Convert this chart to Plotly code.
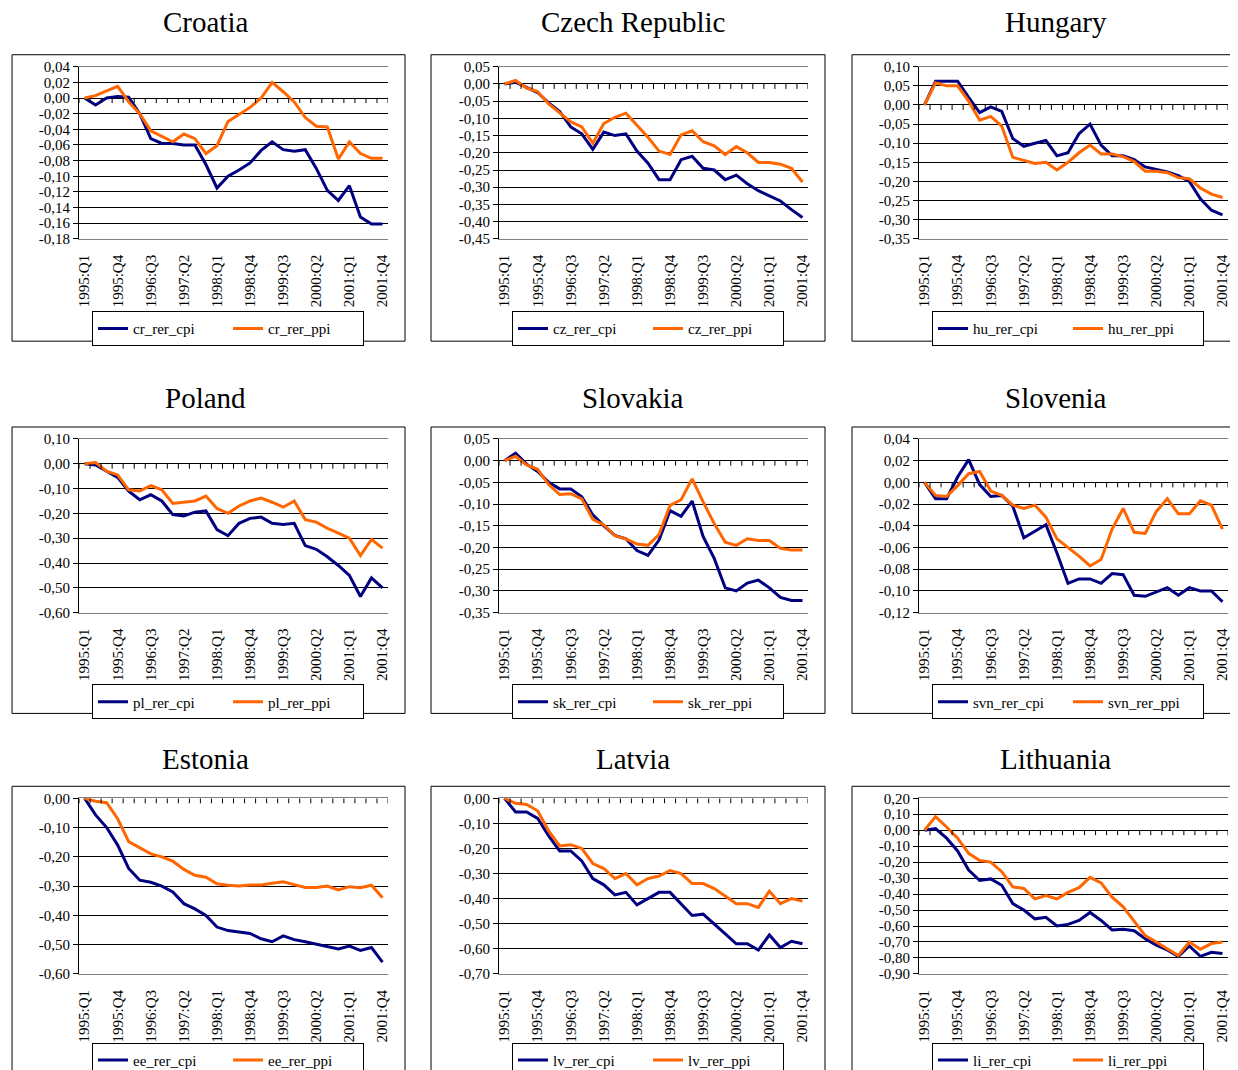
import plotly.graph_objects as go
import numpy as np

quarters = ["1995:Q1", "1995:Q2", "1995:Q3", "1995:Q4", "1996:Q1", "1996:Q2", "1996:Q3", "1996:Q4",
            "1997:Q1", "1997:Q2", "1997:Q3", "1997:Q4", "1998:Q1", "1998:Q2", "1998:Q3", "1998:Q4",
            "1999:Q1", "1999:Q2", "1999:Q3", "1999:Q4", "2000:Q1", "2000:Q2", "2000:Q3", "2000:Q4",
            "2001:Q1", "2001:Q2", "2001:Q3", "2001:Q4"]

cr_cpi = [0.000, -0.009, 0.000, 0.002, 0.001, -0.020, -0.052, -0.058, -0.058, -0.060, -0.060, -0.085, -0.115, -0.100,
          -0.092, -0.083, -0.067, -0.056, -0.066, -0.068, -0.066, -0.090, -0.118, -0.131, -0.112, -0.152, -0.161, -0.161]
cr_ppi = [0.000, 0.003, 0.009, 0.015, -0.005, -0.020, -0.042, -0.049, -0.056, -0.046, -0.052, -0.071, -0.061, -0.030,
          -0.021, -0.012, 0.000, 0.020, 0.008, -0.005, -0.025, -0.036, -0.037, -0.078, -0.056, -0.071, -0.077, -0.077]

cz_cpi = [0.000, 0.005, -0.010, -0.025, -0.055, -0.080, -0.125, -0.145, -0.190, -0.140, -0.150, -0.145, -0.195, -0.230,
          -0.278, -0.278, -0.220, -0.210, -0.245, -0.250, -0.278, -0.265, -0.290, -0.310, -0.325, -0.340, -0.365, -0.388]
cz_ppi = [0.000, 0.010, -0.012, -0.022, -0.058, -0.085, -0.110, -0.125, -0.172, -0.115, -0.097, -0.085, -0.120, -0.155,
          -0.195, -0.205, -0.148, -0.136, -0.168, -0.180, -0.205, -0.182, -0.200, -0.228, -0.228, -0.233, -0.245, -0.285]

hu_cpi = [0.000, 0.062, 0.062, 0.062, 0.020, -0.020, -0.005, -0.017, -0.088, -0.108, -0.100, -0.093, -0.133, -0.125,
          -0.075, -0.050, -0.105, -0.133, -0.133, -0.143, -0.162, -0.168, -0.175, -0.185, -0.200, -0.245, -0.275, -0.287]
hu_ppi = [0.000, 0.058, 0.050, 0.050, 0.010, -0.040, -0.030, -0.055, -0.137, -0.145, -0.153, -0.150, -0.170, -0.150,
          -0.125, -0.105, -0.128, -0.128, -0.135, -0.148, -0.173, -0.173, -0.177, -0.190, -0.193, -0.217, -0.233, -0.242]

pl_cpi = [0.000, -0.005, -0.030, -0.055, -0.110, -0.145, -0.125, -0.150, -0.205, -0.210, -0.195, -0.190, -0.265, -0.290,
          -0.240, -0.220, -0.215, -0.240, -0.245, -0.240, -0.330, -0.345, -0.375, -0.410, -0.450, -0.535, -0.460, -0.500]
pl_ppi = [0.000, 0.005, -0.030, -0.045, -0.105, -0.110, -0.088, -0.105, -0.160, -0.155, -0.150, -0.130, -0.180, -0.200,
          -0.170, -0.150, -0.138, -0.155, -0.175, -0.150, -0.225, -0.235, -0.260, -0.280, -0.300, -0.370, -0.305, -0.340]

sk_cpi = [0.000, 0.017, -0.008, -0.025, -0.050, -0.065, -0.065, -0.083, -0.125, -0.150, -0.172, -0.180, -0.207, -0.218,
          -0.183, -0.115, -0.128, -0.093, -0.175, -0.225, -0.293, -0.300, -0.282, -0.275, -0.293, -0.315, -0.322, -0.322]
sk_ppi = [0.000, 0.010, -0.010, -0.020, -0.055, -0.078, -0.076, -0.088, -0.135, -0.148, -0.173, -0.180, -0.192, -0.195,
          -0.170, -0.103, -0.090, -0.042, -0.095, -0.145, -0.188, -0.195, -0.180, -0.184, -0.184, -0.202, -0.206, -0.206]

svn_cpi = [0.000, -0.015, -0.015, 0.005, 0.021, -0.002, -0.013, -0.012, -0.022, -0.051, -0.045, -0.039, -0.065, -0.093,
           -0.089, -0.089, -0.093, -0.084, -0.085, -0.104, -0.105, -0.101, -0.097, -0.104, -0.097, -0.100, -0.100, -0.110]
svn_ppi = [0.000, -0.012, -0.013, -0.003, 0.008, 0.010, -0.008, -0.012, -0.021, -0.024, -0.021, -0.032, -0.052, -0.060,
           -0.068, -0.077, -0.071, -0.043, -0.024, -0.046, -0.047, -0.027, -0.015, -0.029, -0.029, -0.017, -0.021, -0.043]

ee_cpi = [0.000, -0.057, -0.100, -0.160, -0.240, -0.280, -0.287, -0.300, -0.320, -0.360, -0.378, -0.400, -0.440, -0.452,
          -0.457, -0.462, -0.480, -0.490, -0.470, -0.483, -0.490, -0.498, -0.505, -0.515, -0.505, -0.520, -0.510, -0.560]
ee_ppi = [0.000, -0.010, -0.015, -0.070, -0.148, -0.168, -0.190, -0.200, -0.215, -0.243, -0.263, -0.270, -0.292, -0.297,
          -0.300, -0.296, -0.296, -0.290, -0.285, -0.295, -0.305, -0.305, -0.300, -0.313, -0.302, -0.306, -0.297, -0.340]

lv_cpi = [0.000, -0.055, -0.055, -0.080, -0.150, -0.210, -0.210, -0.250, -0.320, -0.345, -0.385, -0.375, -0.425, -0.400,
          -0.375, -0.375, -0.420, -0.467, -0.462, -0.500, -0.540, -0.580, -0.580, -0.605, -0.545, -0.595, -0.570, -0.580]
lv_ppi = [0.000, -0.020, -0.025, -0.050, -0.130, -0.190, -0.185, -0.200, -0.260, -0.280, -0.320, -0.300, -0.345, -0.320,
          -0.310, -0.288, -0.300, -0.340, -0.340, -0.360, -0.390, -0.420, -0.420, -0.435, -0.370, -0.420, -0.400, -0.410]

li_cpi = [0.000, 0.010, -0.050, -0.130, -0.250, -0.315, -0.305, -0.345, -0.460, -0.500, -0.555, -0.545, -0.600, -0.590,
          -0.565, -0.515, -0.565, -0.625, -0.620, -0.630, -0.680, -0.720, -0.750, -0.790, -0.725, -0.790, -0.765, -0.772]
li_ppi = [0.000, 0.085, 0.020, -0.050, -0.145, -0.190, -0.200, -0.260, -0.355, -0.365, -0.430, -0.410, -0.430, -0.390,
          -0.360, -0.295, -0.330, -0.420, -0.480, -0.570, -0.660, -0.700, -0.745, -0.785, -0.700, -0.745, -0.710, -0.700]

titles = ["Croatia", "Czech Republic", "Hungary", "Poland", "Slovakia", "Slovenia", "Estonia", "Latvia", "Lithuania"]
prefixes = ["cr", "cz", "hu", "pl", "sk", "svn", "ee", "lv", "li"]
cpi_series = [cr_cpi, cz_cpi, hu_cpi, pl_cpi, sk_cpi, svn_cpi, ee_cpi, lv_cpi, li_cpi]
ppi_series = [cr_ppi, cz_ppi, hu_ppi, pl_ppi, sk_ppi, svn_ppi, ee_ppi, lv_ppi, li_ppi]
y_ranges = [(-0.18, 0.04, 0.02), (-0.45, 0.05, 0.05), (-0.35, 0.10, 0.05),
            (-0.60, 0.10, 0.10), (-0.35, 0.05, 0.05), (-0.12, 0.04, 0.02),
            (-0.60, 0.00, 0.10), (-0.70, 0.00, 0.10), (-0.90, 0.20, 0.10)]

# ---- layout geometry (target pixels in the photographed page) ----
W, H = 1238, 1070
OFF = 8  # default body margin of the html page
FONT = "Liberation Serif"
BLUE = "#000080"
ORANGE = "#FF6600"

box_x = [(12, 405), (431, 825), (852, 1260)]
box_y = [(55, 342), (428, 715), (788, 1090)]
plot_x = [(79, 388), (499, 808), (919, 1228)]
plot_y = [(67, 239.5), (440, 614), (800, 976)]
title_x = [205, 633, 1056]
title_y = [22, 399, 761]
legend_x = [228, 648, 1068]
legend_y = [312, 686, 1045]

# measured correction between set positions and photographed positions
SX, BX = 0.996, 3.0
SY, BY = 0.987, 8.3


def px(x):
    return ((x - BX) / SX - OFF) / W


def py(y):
    return 1 - ((y - BY) / SY - OFF) / H


def fmt(v):
    if abs(v) < 1e-9:
        v = 0.0
    return f"{v:.2f}".replace(".", ",")


fig = go.Figure()
layout = dict(
    width=W, height=H, margin=dict(l=0, r=0, t=0, b=0), autosize=False,
    paper_bgcolor="white", plot_bgcolor="white",
    font=dict(family=FONT, color="black"),
    shapes=[], annotations=[],
)

n = len(quarters)
xs = list(range(n))

for k in range(9):
    r, c = divmod(k, 3)
    s = "" if k == 0 else str(k + 1)
    ymin, ymax, dt = y_ranges[k]
    top, bot = plot_y[r]
    left, right = plot_x[c]
    leg = "legend" + s

    fig.add_trace(go.Scatter(x=xs, y=cpi_series[k], mode="lines", name=f"{prefixes[k]}_rer_cpi",
                             line=dict(color=BLUE, width=3), xaxis="x" + s, yaxis="y" + s, legend=leg))
    fig.add_trace(go.Scatter(x=xs, y=ppi_series[k], mode="lines", name=f"{prefixes[k]}_rer_ppi",
                             line=dict(color=ORANGE, width=3), xaxis="x" + s, yaxis="y" + s, legend=leg))

    yt = [round(v, 2) for v in np.arange(ymin, ymax + dt / 2, dt)]
    layout["xaxis" + s] = dict(
        domain=[px(left), px(right)], range=[-0.5, n - 0.5], anchor="y" + s,
        showline=True, linecolor="#808080", linewidth=1, mirror=True,
        showgrid=False, zeroline=False,
        ticks="outside", ticklen=9, tickcolor="rgba(0,0,0,0)",
        tickmode="array", tickvals=xs[::3], ticktext=quarters[::3], tickangle=-90,
        tickfont=dict(family=FONT, size=15, color="black"),
        fixedrange=True,
    )
    layout["yaxis" + s] = dict(
        domain=[py(bot), py(top)], range=[ymin, ymax], anchor="x" + s,
        tickmode="array", tickvals=yt, ticktext=[fmt(v) for v in yt],
        showgrid=True, gridcolor="black", gridwidth=1,
        zeroline=True, zerolinecolor="black", zerolinewidth=1,
        showline=True, linecolor="black", linewidth=1, ticks="outside", ticklen=5, tickcolor="black",
        tickfont=dict(family=FONT, size=15, color="black"), fixedrange=True,
    )
    layout[leg] = dict(
        x=px(legend_x[c]), xanchor="center", y=py(legend_y[r]), yanchor="top",
        orientation="h", bordercolor="black", borderwidth=1, bgcolor="white",
        font=dict(family=FONT, size=15, color="black"), entrywidth=90, entrywidthmode="pixels",
    )
    # category tick marks on the zero line (between categories)
    for b in range(n + 1):
        layout["shapes"].append(dict(type="line", xref="x" + s, yref="y" + s, x0=b - 0.5, x1=b - 0.5,
                                     ysizemode="pixel", yanchor=0, y0=0, y1=-5,
                                     line=dict(color="black", width=1), layer="above"))
    # chart-area border
    bx0, bx1 = box_x[c]
    by0, by1 = box_y[r]
    layout["shapes"].append(dict(type="rect", xref="paper", yref="paper", x0=px(bx0), x1=px(bx1),
                                 y0=py(by1), y1=py(by0), line=dict(color="black", width=1), layer="below"))
    layout["annotations"].append(dict(text=titles[k], xref="paper", yref="paper", x=px(title_x[c]),
                                      y=py(title_y[r]), xanchor="center", yanchor="middle", showarrow=False,
                                      font=dict(family=FONT, size=29, color="black")))

fig.update_layout(**layout)
fig.write_html("out.html", config={"displayModeBar": False})
